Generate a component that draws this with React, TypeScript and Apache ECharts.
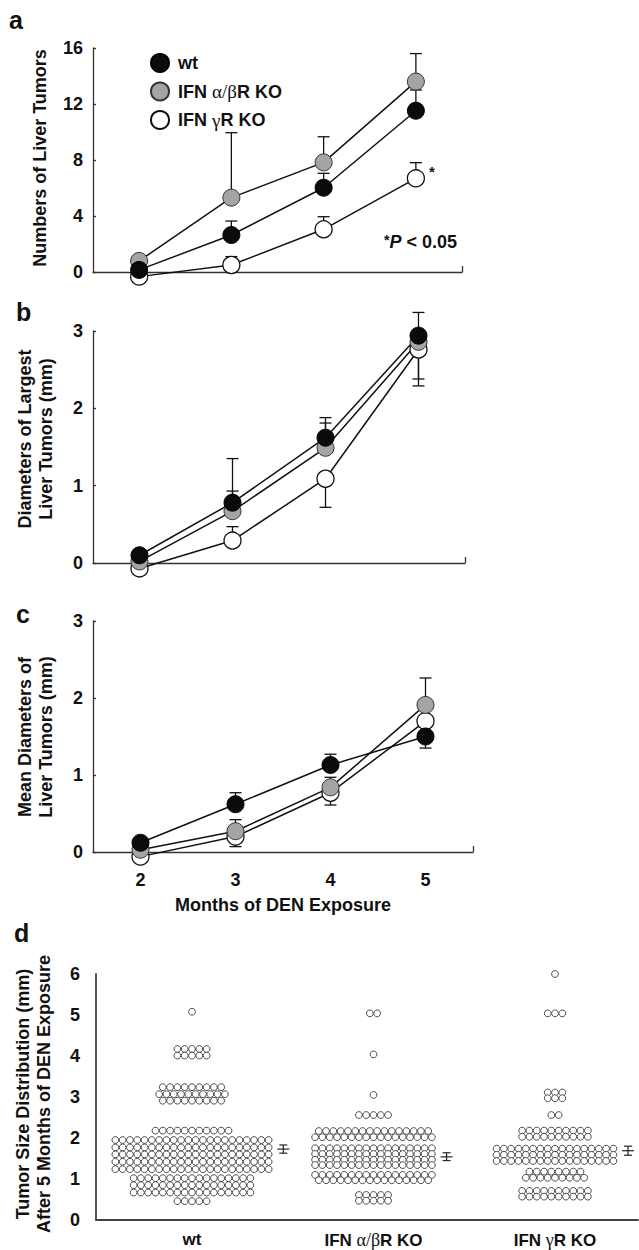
import React, { useEffect, useRef } from "react";
import * as echarts from "echarts";

// ---------- DATA ----------
const months = [2, 3, 4, 5];
const groupNames = ["wt", "IFN α/βR KO", "IFN γR KO"];

// Panel a: Numbers of liver tumors (mean, signed error bar length)
const aWt = [0.15, 2.64, 6.02, 11.52];
const aWtErr = [0, 1.0, 1.03, 1.48];
const aAB = [0.79, 5.31, 7.83, 13.6];
const aABErr = [0, 4.64, 1.83, 2.0];
const aG = [-0.33, 0.5, 3.05, 6.69];
const aGErr = [0, 0.6, 0.9, 1.12];

// Panel b: Diameters of largest liver tumors (mm)
const bWt = [0.1, 0.78, 1.62, 2.94];
const bWtErr = [0, 0.15, 0.26, 0.3];
const bAB = [0.02, 0.67, 1.49, 2.86];
const bABErr = [0, 0.68, 0.32, -0.48];
const bG = [-0.07, 0.29, 1.09, 2.76];
const bGErr = [0, 0.18, -0.37, -0.47];

// Panel c: Mean diameters of liver tumors (mm)
const cWt = [0.12, 0.62, 1.13, 1.5];
const cWtErr = [0, 0.15, 0.14, -0.15];
const cAB = [0.03, 0.27, 0.84, 1.91];
const cABErr = [0, 0.15, 0.13, 0.35];
const cG = [-0.06, 0.2, 0.77, 1.7];
const cGErr = [0, -0.13, -0.16, 0];

// Panel d: tumor size distribution rows [size (mm), number of tumors]
const swarmWt: [number, number][] = [
  [5.08, 1], [4.17, 5], [4.01, 5], [3.24, 9], [3.07, 10], [2.91, 9], [2.18, 11],
  [1.95, 22], [1.77, 22], [1.6, 22], [1.42, 22], [1.24, 22],
  [1.02, 17], [0.85, 17], [0.67, 17], [0.46, 5],
];
const swarmAB: [number, number][] = [
  [5.04, 2], [4.04, 1], [3.05, 1], [2.56, 5], [2.17, 16], [2.02, 17],
  [1.75, 17], [1.61, 17], [1.47, 17], [1.34, 17],
  [1.1, 17], [0.97, 16], [0.61, 5], [0.47, 5],
];
const swarmG: [number, number][] = [
  [6.0, 1], [5.04, 3], [3.11, 3], [2.97, 3], [2.56, 2], [2.18, 10], [2.03, 10],
  [1.74, 17], [1.59, 17], [1.44, 17],
  [1.18, 8], [1.03, 9], [0.71, 10], [0.57, 10],
];
// mean, low, high per group
const dMean = [1.73, 1.54, 1.69];
const dLow = [1.63, 1.45, 1.58];
const dHigh = [1.83, 1.64, 1.8];

// ---------- STYLE ----------
const FONT = '"Liberation Sans", Arial, Helvetica, sans-serif';
const INK = "#111";
const SPACING = 7.3;
const DOT_R = 3.4;
const FS = 18;

const markerStyles: Record<string, any> = {
  wt: { color: "#0b0b0b", borderColor: "#000", borderWidth: 1 },
  "IFN α/βR KO": { color: "#a4a4a4", borderColor: "#333", borderWidth: 1 },
  "IFN γR KO": { color: "#ffffff", borderColor: "#111", borderWidth: 1.3 },
};

function errSeries(idx: number, vals: number[], errs: number[]) {
  return {
    type: "custom",
    xAxisIndex: idx,
    yAxisIndex: idx,
    silent: true,
    z: 1,
    data: months.map((m, k) => [m, vals[k], errs[k]]),
    renderItem: (_p: any, api: any) => {
      const x = api.value(0);
      const y = api.value(1);
      const e = api.value(2);
      if (!e) return { type: "group", children: [] };
      const p0 = api.coord([x, y]);
      const p1 = api.coord([x, y + e]);
      const st = { stroke: INK, lineWidth: 1.3 };
      return {
        type: "group",
        children: [
          { type: "line", shape: { x1: p0[0], y1: p0[1], x2: p1[0], y2: p1[1] }, style: st },
          { type: "line", shape: { x1: p1[0] - 6, y1: p1[1], x2: p1[0] + 6, y2: p1[1] }, style: st },
        ],
      };
    },
  };
}

function lineSeries(idx: number, name: string, vals: number[], star = false) {
  return {
    type: "line",
    name,
    xAxisIndex: idx,
    yAxisIndex: idx,
    clip: false,
    z: 3,
    symbol: "circle",
    symbolSize: 17,
    silent: true,
    lineStyle: { color: INK, width: 1.5 },
    itemStyle: markerStyles[name],
    data: months.map((m, k) => {
      const item: any = { value: [m, vals[k]] };
      if (star && k === months.length - 1) {
        item.label = {
          show: true,
          formatter: "*",
          position: "right",
          offset: [-1, -7],
          fontFamily: FONT,
          fontWeight: "bold",
          fontSize: 15,
          color: INK,
        };
      }
      return item;
    }),
  };
}

function panelSeries(idx: number, wt: number[], wtE: number[], ab: number[], abE: number[], g: number[], gE: number[]) {
  return [
    errSeries(idx, g, gE),
    errSeries(idx, ab, abE),
    errSeries(idx, wt, wtE),
    lineSeries(idx, groupNames[2], g, idx === 0),
    lineSeries(idx, groupNames[1], ab),
    lineSeries(idx, groupNames[0], wt),
  ];
}

function swarmData(rows: [number, number][], g: number) {
  const out: number[][] = [];
  rows.forEach(([y, n]) => {
    for (let i = 0; i < n; i++) out.push([g, y, i - (n - 1) / 2]);
  });
  return out;
}

const swarmRows = [swarmWt, swarmAB, swarmG];

const greekRich = (s: string) => s.replace("α/β", "{g|α/β}").replace("γ", "{g|γ}");

const lineX = (idx: number, showLabels: boolean) => ({
  type: "value",
  gridIndex: idx,
  min: 1.5,
  max: 5.5,
  axisLine: { show: true, onZero: false, lineStyle: { color: "#333", width: 1.3 } },
  axisTick: { show: true, customValues: [5.5], inside: true, length: 6, lineStyle: { color: "#333", width: 1.3 } },
  axisLabel: {
    show: showLabels,
    customValues: months,
    margin: 19,
    fontFamily: FONT,
    fontWeight: "bold",
    fontSize: FS,
    color: INK,
  },
  splitLine: { show: false },
});

const lineY = (idx: number, max: number, interval: number) => ({
  type: "value",
  gridIndex: idx,
  min: 0,
  max,
  interval,
  axisLine: { show: true, onZero: false, lineStyle: { color: "#333", width: 1.3 } },
  axisTick: { show: true, inside: true, length: 3, lineStyle: { color: "#333", width: 1.3 } },
  axisLabel: { margin: 10, fontFamily: FONT, fontWeight: "bold", fontSize: FS, color: INK },
  splitLine: { show: false },
});

const titleText = (x: number, y: number, text: string) => ({
  type: "text",
  x,
  y,
  rotation: Math.PI / 2,
  style: {
    text,
    align: "center",
    verticalAlign: "middle",
    font: `bold ${FS}px ${FONT}`,
    lineHeight: 21,
    fill: INK,
  },
});

const letter = (x: number, y: number, t: string) => ({
  type: "text",
  x,
  y,
  style: { text: t, font: `bold 25px ${FONT}`, fill: INK, verticalAlign: "middle", align: "left" },
});

export default function App() {
  const ref = useRef<HTMLDivElement>(null);
  useEffect(() => {
    if (!ref.current) return;
    const chart = echarts.init(ref.current, undefined, { renderer: "svg" });

    const dUnit = (555 - 192) / 2;
    const dMin = -(192 - 96) / dUnit;
    const dMax = dMin + 542 / dUnit;

    const option: any = {
      animation: false,
      backgroundColor: "#fff",
      textStyle: { fontFamily: FONT },
      grid: [
        { left: 93, top: 48, width: 369, height: 224 },
        { left: 93, top: 331, width: 372, height: 232 },
        { left: 93, top: 621, width: 380, height: 231 },
        { left: 96, top: 974, width: 542, height: 246 },
      ],
      xAxis: [
        lineX(0, false),
        lineX(1, false),
        lineX(2, true),
        {
          type: "value",
          gridIndex: 3,
          min: dMin,
          max: dMax,
          axisLine: { show: true, onZero: false, lineStyle: { color: "#444", width: 1.8 } },
          axisTick: { show: false },
          axisLabel: {
            customValues: [0, 1, 2],
            margin: 11,
            formatter: (v: number) => greekRich(groupNames[Math.round(v)] || ""),
            fontFamily: FONT,
            fontWeight: "bold",
            fontSize: 17,
            color: INK,
            rich: { g: { fontFamily: '"Liberation Serif", serif', fontWeight: "normal", fontSize: 18, color: INK } },
          },
          splitLine: { show: false },
        },
      ],
      yAxis: [
        lineY(0, 16, 4),
        lineY(1, 3, 1),
        lineY(2, 3, 1),
        {
          type: "value",
          gridIndex: 3,
          min: 0,
          max: 6,
          interval: 1,
          axisLine: { show: true, onZero: false, lineStyle: { color: "#444", width: 1.8 } },
          axisTick: { show: false },
          axisLabel: { margin: 16, fontFamily: FONT, fontWeight: "bold", fontSize: FS, color: INK },
          splitLine: { show: false },
        },
      ],
      legend: {
        left: 145,
        top: 48,
        orient: "vertical",
        icon: "circle",
        itemWidth: 18,
        itemHeight: 18,
        itemGap: 8.5,
        selectedMode: false,
        data: groupNames,
        formatter: (n: string) => greekRich(n),
        textStyle: {
          fontFamily: FONT,
          fontWeight: "bold",
          fontSize: FS,
          color: INK,
          padding: [0, 0, 0, 4],
          rich: { g: { fontFamily: '"Liberation Serif", serif', fontWeight: "normal", fontSize: 19, color: INK } },
        },
      },
      graphic: [
        letter(9, 20, "a"),
        letter(16, 312, "b"),
        letter(16, 614, "c"),
        letter(14, 933, "d"),
        titleText(40, 158, "Numbers of Liver Tumors"),
        titleText(35, 439, "Diameters of Largest\nLiver Tumors (mm)"),
        titleText(35, 737, "Mean Diameters of\nLiver Tumors (mm)"),
        titleText(33, 1094, "Tumor Size Distribution (mm)\nAfter 5 Months of DEN Exposure"),
        {
          type: "text",
          x: 283,
          y: 905,
          style: {
            text: "Months of DEN Exposure",
            font: `bold ${FS}px ${FONT}`,
            fill: INK,
            align: "center",
            verticalAlign: "middle",
          },
        },
        {
          type: "text",
          x: 384,
          y: 242,
          style: {
            text: "{s|*}{p|P}{n| < 0.05}",
            fill: INK,
            verticalAlign: "middle",
            align: "left",
            rich: {
              s: { font: `bold 14px ${FONT}`, fill: INK, verticalAlign: "top" },
              p: { font: `italic bold ${FS}px ${FONT}`, fill: INK },
              n: { font: `bold ${FS}px ${FONT}`, fill: INK },
            },
          },
        },
      ],
      series: [
        ...panelSeries(0, aWt, aWtErr, aAB, aABErr, aG, aGErr),
        ...panelSeries(1, bWt, bWtErr, bAB, bABErr, bG, bGErr),
        ...panelSeries(2, cWt, cWtErr, cAB, cABErr, cG, cGErr),
        {
          type: "custom",
          name: "Tumor sizes",
          xAxisIndex: 3,
          yAxisIndex: 3,
          silent: true,
          data: swarmRows.flatMap((rows, g) => swarmData(rows, g)),
          renderItem: (_p: any, api: any) => {
            const c = api.coord([api.value(0), api.value(1)]);
            return {
              type: "circle",
              shape: { cx: c[0] + api.value(2) * SPACING, cy: c[1], r: DOT_R },
              style: { fill: "#fff", stroke: "#3a3a3a", lineWidth: 0.9 },
            };
          },
        },
        {
          type: "custom",
          name: "Mean ± SE",
          xAxisIndex: 3,
          yAxisIndex: 3,
          silent: true,
          data: groupNames.map((_, g) => [
            g,
            dMean[g],
            dLow[g],
            dHigh[g],
            Math.max(...swarmRows[g].map((r) => r[1])),
          ]),
          renderItem: (_p: any, api: any) => {
            const g = api.value(0);
            const pm = api.coord([g, api.value(1)]);
            const pl = api.coord([g, api.value(2)]);
            const ph = api.coord([g, api.value(3)]);
            const x = pm[0] + (api.value(4) * SPACING) / 2 + 11;
            const st = { stroke: "#222", lineWidth: 1.2 };
            return {
              type: "group",
              children: [
                { type: "line", shape: { x1: x, y1: ph[1], x2: x, y2: pl[1] }, style: st },
                { type: "line", shape: { x1: x - 4, y1: ph[1], x2: x + 4, y2: ph[1] }, style: st },
                { type: "line", shape: { x1: x - 4, y1: pl[1], x2: x + 4, y2: pl[1] }, style: st },
                { type: "line", shape: { x1: x - 6, y1: pm[1], x2: x + 6, y2: pm[1] }, style: st },
              ],
            };
          },
        },
      ],
    };
    chart.setOption(option);
    return () => chart.dispose();
  }, []);
  return (
    <div
      ref={ref}
      style={{ position: "absolute", left: 0, top: 0, width: 639, height: 1250, background: "#fff" }}
    />
  );
}
